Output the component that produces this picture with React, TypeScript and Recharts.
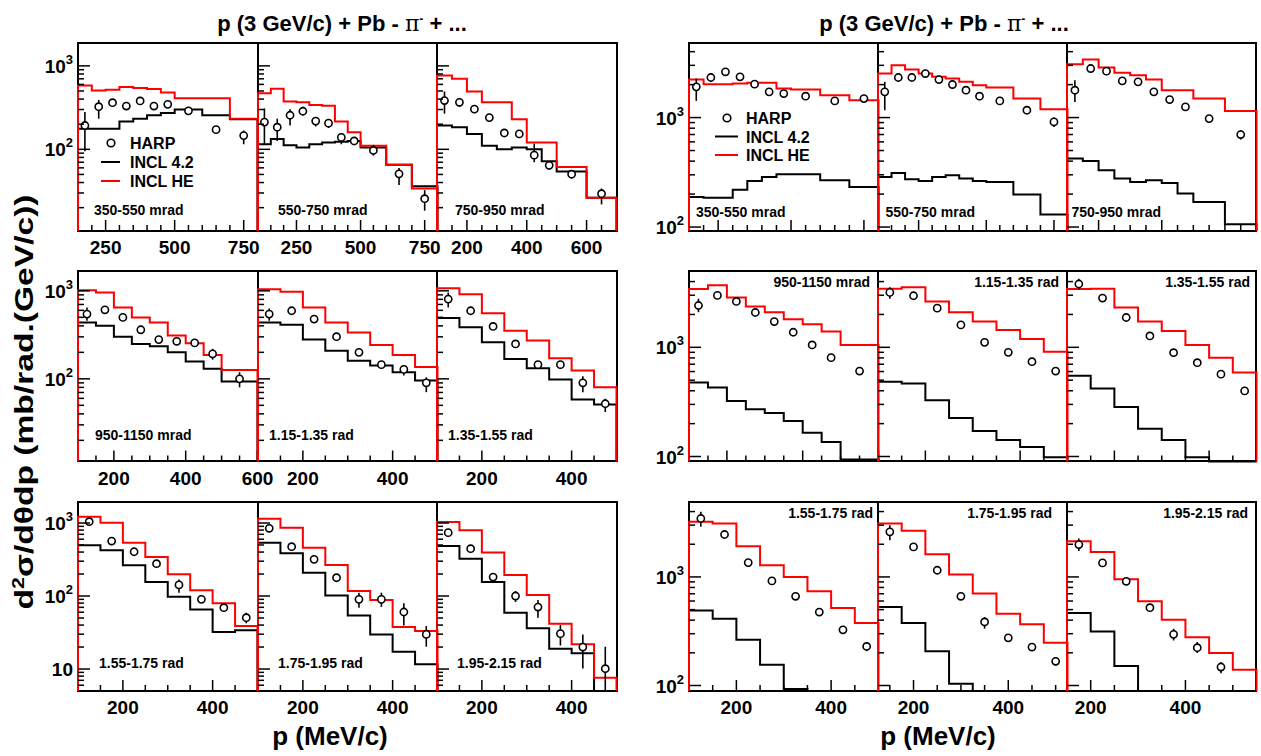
import React from 'react';
import { ComposedChart, Line, Scatter, XAxis, YAxis, ErrorBar } from 'recharts';

const FONT = '"Liberation Sans", Arial, Helvetica, sans-serif';

// ---------------- text ----------------
const TITLE_MAIN = 'p (3 GeV/c) + Pb - ';
const TITLE_PION = 'π';
const TITLE_TAIL = ' + ...';
const X_TITLE = 'p (MeV/c)';
const Y_TITLE_A = 'd';
const Y_TITLE_SUP = '2';
const Y_TITLE_B = 'σ/dθdp (mb/rad.(GeV/c))';
const LEGEND_LABELS = ['HARP', 'INCL 4.2', 'INCL HE'];
const ANGLES_ROW1 = ['350-550 mrad', '550-750 mrad', '750-950 mrad'];
const ANGLES_ROW2 = ['950-1150 mrad', '1.15-1.35 rad', '1.35-1.55 rad'];
const ANGLES_ROW3 = ['1.55-1.75 rad', '1.75-1.95 rad', '1.95-2.15 rad'];

// ---------------- axes ----------------
const XT_150_800 = [200, 250, 300, 350, 400, 450, 500, 550, 600, 650, 700, 750];
const XT_100_800 = [150, 200, 250, 300, 350, 400, 450, 500, 550, 600, 650, 700, 750];
const XT_100_700 = [150, 200, 250, 300, 350, 400, 450, 500, 550, 600, 650];
const XT_100_600 = [150, 200, 250, 300, 350, 400, 450, 500, 550, 600];
const XT_100_500 = [150, 200, 250, 300, 350, 400, 450];
const XT_125_525 = [150, 200, 250, 300, 350, 400, 450, 500];
const XT_150_550 = [200, 250, 300, 350, 400, 450, 500];
const XM_250 = [250, 500, 750];
const XM_200 = [200, 400, 600];

const YT_LEFT = [20, 30, 40, 50, 60, 70, 80, 90, 100, 200, 300, 400, 500, 600, 700, 800, 900, 1000];
const YT_LEFT3 = [6, 7, 8, 9, 10, 20, 30, 40, 50, 60, 70, 80, 90, 100, 200, 300, 400, 500, 600, 700, 800, 900, 1000];
const YT_RIGHT = [100, 200, 300, 400, 500, 600, 700, 800, 900, 1000, 2000, 3000, 4000];
const Y_DECADES = [10, 100, 1000];
const Y_DECADE_EXP = ['', '2', '3'];

const YD_L1: [number, number] = [10.5, 1880];
const YD_L2: [number, number] = [11.5, 1680];
const YD_L3: [number, number] = [5, 1940];
const YD_R1: [number, number] = [92, 4800];
const YD_R2: [number, number] = [90, 5000];
const YD_R3: [number, number] = [89, 4900];

// ---------------- bin edges / momenta ----------------
const E_150_800 = [150, 200, 250, 300, 350, 400, 450, 500, 600, 700, 800];
const E_100_800 = [100, 150, 200, 250, 300, 350, 400, 450, 500, 600, 700, 800];
const E_100_700 = [100, 150, 200, 250, 300, 350, 400, 450, 500, 600, 700];
const E_100_600 = [100, 150, 200, 250, 300, 350, 400, 450, 500, 600];
const E_100_500 = [100, 150, 200, 250, 300, 350, 400, 450, 500];
const E_125_525 = [125, 175, 225, 275, 325, 375, 425, 475, 525];
const E_150_550 = [150, 200, 250, 300, 350, 400, 450, 500, 550];

const P_10A = [175, 225, 275, 325, 375, 425, 475, 550, 650, 750];
const P_11 = [125, 175, 225, 275, 325, 375, 425, 475, 550, 650, 750];
const P_10B = [125, 175, 225, 275, 325, 375, 425, 475, 550, 650];
const P_9 = [125, 175, 225, 275, 325, 375, 425, 475, 550];
const P_8 = [125, 175, 225, 275, 325, 375, 425, 475];
const P_8S = [150, 200, 250, 300, 350, 400, 450, 500];
const P_7 = [175, 225, 275, 325, 375, 425, 475];

// ---------------- LEFT group ----------------
const L11_HE = [580, 508, 518, 558, 543, 528, 481, 409, 409, 233];
const L11_42 = [176, 176, 176, 216, 233, 256, 273, 300, 256, 229];
const L11_V = [193, 324, 362, 330, 380, 330, 346, 289, 172, 146];
const L11_LO = [95, 233, 335, 305, 352, 305, 320, 268, 153, 115];
const L11_HI = [281, 391, 392, 357, 410, 357, 373, 312, 190, 168];

const L12_HE = [471, 533, 373, 366, 339, 333, 216, 160, 110, 65.5, 33.9];
const L12_42 = [115, 133, 112, 105, 115, 121, 123, 126, 105, 65.5, 36.2];
const L12_V = [212, 184, 256, 286, 218, 206, 139, 126, 97, 50.8, 25.6];
const L12_LO = [115, 126, 193, 256, 188, 180, 115, 112, 84, 37.3, 18.4];
const L12_HI = [309, 233, 303, 324, 237, 228, 155, 139, 113, 59.6, 32.4];

const L13_HE = [769, 700, 494, 366, 366, 229, 121, 121, 61.4, 26.3];
const L13_42 = [193, 184, 153, 110, 100, 105, 100, 72, 54.3, 26.3];
const L13_V = [384, 366, 303, 240, 157, 153, 85.2, 64.3, 50.3, 29.4];
const L13_LO = [268, 324, 272, 215, 142, 138, 70, 57, 45, 21.9];
const L13_HI = [494, 409, 335, 266, 172, 168, 117, 72, 56, 33.9];

const L21_HE = [1018, 957, 647, 499, 438, 310, 253, 187, 126];
const L21_42 = [438, 401, 301, 249, 234, 200, 157, 130, 93.3];
const L21_V = [544, 609, 499, 361, 279, 267, 256, 192, 100];
const L21_LO = [457, 570, 465, 335, 260, 248, 233, 165, 80];
const L21_HI = [648, 650, 535, 389, 300, 287, 280, 219, 119];

const L22_HE = [1044, 975, 647, 438, 337, 243, 187, 136];
const L22_42 = [438, 412, 279, 209, 161, 142, 119, 95.8];
const L22_V = [544, 594, 477, 301, 200, 145, 128, 90.1];
const L22_LO = [457, 555, 445, 280, 183, 135, 109, 70.6];
const L22_HI = [631, 635, 510, 323, 219, 156, 141, 104];

const L23_HE = [1072, 916, 558, 352, 272, 171, 124, 80.5];
const L23_42 = [491, 385, 260, 168, 132, 98.3, 58.4, 51.2];
const L23_V = [805, 594, 394, 249, 145, 145, 90.1, 52.1];
const L23_LO = [647, 555, 368, 232, 135, 135, 70.6, 42];
const L23_HI = [957, 635, 421, 268, 156, 156, 107, 59.4];

const L31_HE = [1222, 1011, 538, 342, 198, 120, 79.3, 38.8];
const L31_42 = [494, 423, 263, 156, 97.9, 65.6, 32.1, 33.9];
const L31_V = [1043, 566, 404, 277, 142, 90, 69.2, 50.5];
const L31_LO = [910, 530, 378, 259, 111, 84, 61, 42.3];
const L31_HI = [1180, 605, 432, 296, 169, 96, 77, 59.1];

const L32_HE = [1146, 863, 459, 266, 117, 88.1, 37.6, 33.2];
const L32_42 = [538, 384, 209, 102, 54.3, 29.8, 17.3, 11.6];
const L32_V = [846, 474, 318, 178, 90, 90, 60.4, 29.8];
const L32_LO = [750, 445, 297, 160, 69.2, 71, 39.6, 20.2];
const L32_HI = [950, 505, 340, 197, 111, 111, 79.3, 38.8];

const L33_HE = [1033, 794, 393, 194, 103, 41.8, 21.8, 7.6];
const L33_42 = [484, 324, 156, 59.1, 36.1, 19, 16.4, 5];
const L33_V = [738, 445, 182, 100, 70.6, 30.5, 20, 10.1];
const L33_LO = [650, 415, 170, 83, 50.5, 21, 10.2, 5];
const L33_HI = [830, 478, 195, 117, 88, 40, 29.8, 20.2];

// ---------------- RIGHT group ----------------
const R11_HE = [2226, 2019, 2019, 2047, 2075, 2075, 1841, 1803, 1600, 1440];
const R11_42 = [188, 185, 185, 219, 263, 287, 303, 303, 267, 232];
const R11_V = [1908, 2323, 2618, 2355, 2019, 1718, 1658, 1567, 1420, 1491];
const R11_LO = [1420, 2120, 2450, 2200, 1900, 1620, 1560, 1480, 1340, 1380];
const R11_HI = [2274, 2530, 2800, 2520, 2150, 1820, 1760, 1660, 1510, 1600];

const R12_HE = [2525, 3013, 2747, 2525, 2355, 2274, 2120, 1976, 1881, 1491, 1192];
const R12_42 = [287, 312, 273, 263, 287, 297, 277, 263, 258, 198, 130];
const R12_V = [1718, 2323, 2323, 2525, 2226, 2004, 1778, 1567, 1420, 1167, 913];
const R12_LO = [1167, 2200, 2200, 2400, 2110, 1900, 1690, 1490, 1350, 1100, 822];
const R12_HI = [2119, 2450, 2450, 2650, 2340, 2110, 1870, 1650, 1490, 1240, 1000];

const R13_HE = [3077, 3389, 2865, 2562, 2438, 2226, 1778, 1778, 1491, 1151];
const R13_42 = [422, 401, 330, 277, 258, 267, 253, 202, 169, 106];
const R13_V = [1778, 2806, 2654, 2163, 2120, 1718, 1461, 1252, 979, 700];
const R13_LO = [1391, 2650, 2510, 2050, 2010, 1630, 1390, 1190, 930, 629];
const R13_HI = [2192, 2960, 2800, 2280, 2230, 1810, 1540, 1320, 1030, 766];

const R21_HE = [3419, 3694, 2865, 2367, 2098, 1812, 1629, 1394, 1051];
const R21_42 = [476, 429, 323, 271, 250, 211, 165, 136, 93.7];
const R21_V = [2416, 2988, 2631, 2084, 1722, 1374, 1051, 804, 606];
const R21_LO = [2098, 2840, 2500, 1980, 1640, 1310, 1000, 765, 577];
const R21_HI = [2785, 3140, 2770, 2190, 1810, 1440, 1100, 845, 637];

const R22_HE = [3444, 3542, 2631, 2098, 1722, 1444, 1193, 912];
const R22_42 = [483, 466, 328, 225, 171, 142, 122, 98.6];
const R22_V = [3184, 2966, 2285, 1605, 1111, 899, 738, 606];
const R22_LO = [2784, 2820, 2170, 1525, 1055, 855, 700, 576];
const R22_HI = [3549, 3120, 2400, 1690, 1170, 945, 776, 637];

const R23_HE = [3419, 3444, 2318, 1722, 1414, 1051, 804, 589];
const R23_42 = [548, 420, 284, 180, 142, 98.6, 90, 90];
const R23_V = [3800, 2825, 1875, 1271, 893, 723, 568, 399];
const R23_LO = [3373, 2685, 1780, 1208, 848, 687, 540, 379];
const R23_HI = [4256, 2970, 1970, 1335, 938, 760, 597, 420];

const R31_HE = [3220, 3105, 1918, 1281, 1000, 737, 518, 376];
const R31_42 = [492, 412, 264, 155, 93.1, 89, 89, 89];
const R31_V = [3453, 2459, 1356, 919, 663, 475, 326, 229];
const R31_LO = [2894, 2340, 1290, 875, 630, 452, 310, 207];
const R31_HI = [3980, 2580, 1425, 965, 697, 499, 343, 251];

const R32_HE = [3105, 2659, 1618, 1051, 702, 459, 366, 248];
const R32_42 = [528, 376, 207, 104, 89, 89, 89, 89];
const R32_V = [2601, 1891, 1152, 663, 385, 275, 226, 167];
const R32_LO = [2178, 1800, 1095, 630, 334, 258, 213, 153];
const R32_HI = [2998, 1985, 1210, 697, 427, 293, 240, 182];

const R33_HE = [2134, 1700, 952, 596, 404, 279, 199, 140];
const R33_42 = [465, 315, 151, 89, 89, 89, 89, 89];
const R33_V = [1987, 1346, 912, 521, 296, 223, 148];
const R33_LO = [1737, 1280, 866, 490, 260, 199, 130];
const R33_HI = [2257, 1415, 960, 555, 333, 252, 164];

// ---------------- layout ----------------
const LEFT_X = [78, 257.5, 437];
const RIGHT_X = [688.5, 877.5, 1066.5];
const ROW_Y = [42.5, 270.5, 502];
const ROW_H = [188, 190.5, 189];
const LEFT_W = 179.5;
const RIGHT_W = 189.5;

type PanelDef = {
  x: [number, number];
  xTicks: number[];
  xMajor: number[];
  edges: number[];
  he: number[];
  i42: number[];
  hp: number[];
  hv: number[];
  lo: number[];
  hi: number[];
};

const mk = (x: [number, number], xTicks: number[], xMajor: number[], edges: number[], he: number[], i42: number[], hp: number[], hv: number[], lo: number[], hi: number[]): PanelDef =>
  ({ x, xTicks, xMajor, edges, he, i42, hp, hv, lo, hi });

const LEFT_PANELS: PanelDef[][] = [
  [
    mk([150, 800], XT_150_800, XM_250, E_150_800, L11_HE, L11_42, P_10A, L11_V, L11_LO, L11_HI),
    mk([100, 800], XT_100_800, XM_250, E_100_800, L12_HE, L12_42, P_11, L12_V, L12_LO, L12_HI),
    mk([100, 700], XT_100_700, XM_200, E_100_700, L13_HE, L13_42, P_10B, L13_V, L13_LO, L13_HI),
  ],
  [
    mk([100, 600], XT_100_600, XM_200, E_100_600, L21_HE, L21_42, P_9, L21_V, L21_LO, L21_HI),
    mk([100, 500], XT_100_500, XM_200, E_100_500, L22_HE, L22_42, P_8, L22_V, L22_LO, L22_HI),
    mk([100, 500], XT_100_500, XM_200, E_100_500, L23_HE, L23_42, P_8, L23_V, L23_LO, L23_HI),
  ],
  [
    mk([100, 500], XT_100_500, XM_200, E_100_500, L31_HE, L31_42, P_8, L31_V, L31_LO, L31_HI),
    mk([100, 500], XT_100_500, XM_200, E_100_500, L32_HE, L32_42, P_8, L32_V, L32_LO, L32_HI),
    mk([100, 500], XT_100_500, XM_200, E_100_500, L33_HE, L33_42, P_8, L33_V, L33_LO, L33_HI),
  ],
];

const RIGHT_PANELS: PanelDef[][] = [
  [
    mk([150, 800], XT_150_800, XM_250, E_150_800, R11_HE, R11_42, P_10A, R11_V, R11_LO, R11_HI),
    mk([100, 800], XT_100_800, XM_250, E_100_800, R12_HE, R12_42, P_11, R12_V, R12_LO, R12_HI),
    mk([100, 700], XT_100_700, XM_200, E_100_700, R13_HE, R13_42, P_10B, R13_V, R13_LO, R13_HI),
  ],
  [
    mk([100, 600], XT_100_600, XM_200, E_100_600, R21_HE, R21_42, P_9, R21_V, R21_LO, R21_HI),
    mk([100, 500], XT_100_500, XM_200, E_100_500, R22_HE, R22_42, P_8, R22_V, R22_LO, R22_HI),
    mk([100, 500], XT_100_500, XM_200, E_100_500, R23_HE, R23_42, P_8, R23_V, R23_LO, R23_HI),
  ],
  [
    mk([100, 500], XT_100_500, XM_200, E_100_500, R31_HE, R31_42, P_8, R31_V, R31_LO, R31_HI),
    mk([125, 525], XT_125_525, XM_200, E_125_525, R32_HE, R32_42, P_8S, R32_V, R32_LO, R32_HI),
    mk([150, 550], XT_150_550, XM_200, E_150_550, R33_HE, R33_42, P_7, R33_V, R33_LO, R33_HI),
  ],
];

const LEFT_YDOM = [YD_L1, YD_L2, YD_L3];
const RIGHT_YDOM = [YD_R1, YD_R2, YD_R3];
const LEFT_YTICKS = [YT_LEFT, YT_LEFT, YT_LEFT3];

function histData(edges: number[], vals: number[], base: number) {
  const pts: { x: number; y: number }[] = [{ x: edges[0], y: base }];
  vals.forEach((v, i) => pts.push({ x: edges[i], y: v }));
  pts.push({ x: edges[edges.length - 1], y: vals[vals.length - 1] });
  pts.push({ x: edges[edges.length - 1], y: base });
  return pts;
}

const HarpMarker = (props: any) => {
  const { cx, cy } = props;
  if (cx == null || cy == null) return null;
  return <circle cx={cx} cy={cy} r={3.6} fill="#fff" stroke="#000" strokeWidth={1.6} />;
};

const makeXTick = (majors: number[], showLabels: boolean) => (props: any) => {
  const { x, y, payload } = props;
  const major = majors.includes(payload.value);
  return (
    <g>
      <line x1={x} x2={x} y1={y} y2={y - (major ? 11 : 6)} stroke="#000" strokeWidth={1.5} />
      {major && showLabels ? (
        <text x={x} y={y + 23} textAnchor="middle" fontFamily={FONT} fontWeight="bold" fontSize={19} fill="#000">
          {payload.value}
        </text>
      ) : null}
    </g>
  );
};

const makeYTick = (showLabels: boolean) => (props: any) => {
  const { x, y, payload } = props;
  const idx = Y_DECADES.indexOf(payload.value);
  const major = idx >= 0;
  return (
    <g>
      <line x1={x} x2={x + (major ? 12 : 6)} y1={y} y2={y} stroke="#000" strokeWidth={1.5} />
      {major && showLabels ? (
        <text x={x - 5} y={y + 7} textAnchor="end" fontFamily={FONT} fontWeight="bold" fontSize={19} fill="#000">
          10
          {Y_DECADE_EXP[idx] ? (
            <tspan dy={-9} fontSize={13}>
              {Y_DECADE_EXP[idx]}
            </tspan>
          ) : null}
        </text>
      ) : null}
    </g>
  );
};

type PanelProps = {
  def: PanelDef;
  left: number;
  top: number;
  w: number;
  h: number;
  yDom: [number, number];
  yTicks: number[];
  showX: boolean;
  showY: boolean;
};

function Frame({ left, top, w, h }: { left: number; top: number; w: number; h: number }) {
  return (
    <div
      style={{
        position: 'absolute',
        left: left - 1,
        top: top - 1,
        width: w + 2,
        height: h + 2,
        border: '2px solid #000',
        boxSizing: 'border-box',
      }}
    />
  );
}

function Panel({ def, left, top, w, h, yDom, yTicks, showX, showY }: PanelProps) {
  const black = histData(def.edges, def.i42, yDom[0]);
  const red = histData(def.edges, def.he, yDom[0]);
  const pts = def.hp.map((p, i) => ({ x: p, y: def.hv[i], err: [def.hv[i] - def.lo[i], def.hi[i] - def.hv[i]] }));
  return (
    <div style={{ position: 'absolute', left: left - 60, top: top - 10 }}>
      <ComposedChart width={w + 80} height={h + 40} margin={{ top: 10, right: 20, bottom: 0, left: 0 }}>
        <XAxis
          type="number"
          dataKey="x"
          domain={def.x}
          ticks={def.xTicks}
          interval={0}
          tickSize={0}
          tickMargin={0}
          axisLine={false}
          tickLine={false}
          tick={makeXTick(def.xMajor, showX)}
          height={30}
        />
        <YAxis
          type="number"
          dataKey="y"
          scale="log"
          domain={yDom}
          ticks={yTicks}
          interval={0}
          tickSize={0}
          tickMargin={0}
          axisLine={false}
          tickLine={false}
          tick={makeYTick(showY)}
          width={60}
        />
        <Line data={black} dataKey="y" type="stepAfter" stroke="#000" strokeWidth={2} dot={false} activeDot={false} isAnimationActive={false} />
        <Line data={red} dataKey="y" type="stepAfter" stroke="#ff0000" strokeWidth={2} dot={false} activeDot={false} isAnimationActive={false} />
        <Scatter data={pts} shape={HarpMarker} isAnimationActive={false}>
          <ErrorBar dataKey="err" direction="y" width={0} stroke="#000" strokeWidth={1.6} isAnimationActive={false} />
        </Scatter>
      </ComposedChart>
    </div>
  );
}

const textStyle = (size: number): React.CSSProperties => ({
  position: 'absolute',
  fontFamily: FONT,
  fontWeight: 'bold',
  fontSize: size,
  color: '#000',
  whiteSpace: 'nowrap',
  lineHeight: `${size + 4}px`,
});

function Legend({ cx, cy, lineX1, lineX2, textX, dy }: { cx: number; cy: number; lineX1: number; lineX2: number; textX: number; dy: number }) {
  return (
    <svg style={{ position: 'absolute', left: 0, top: 0, overflow: 'visible' }} width={1} height={1}>
      <circle cx={cx} cy={cy} r={3.8} fill="#fff" stroke="#000" strokeWidth={1.6} />
      <line x1={lineX1} x2={lineX2} y1={cy + dy} y2={cy + dy} stroke="#000" strokeWidth={2} />
      <line x1={lineX1} x2={lineX2} y1={cy + 2 * dy} y2={cy + 2 * dy} stroke="#ff0000" strokeWidth={2} />
      {LEGEND_LABELS.map((t, i) => (
        <text key={t} x={textX} y={cy + i * dy + 6} fontFamily={FONT} fontWeight="bold" fontSize={16} fill="#000">
          {t}
        </text>
      ))}
    </svg>
  );
}

export default function App() {
  const frames: JSX.Element[] = [];
  const charts: JSX.Element[] = [];
  for (let r = 0; r < 3; r++) {
    for (let c = 0; c < 3; c++) {
      frames.push(<Frame key={`fl${r}${c}`} left={LEFT_X[c]} top={ROW_Y[r]} w={LEFT_W} h={ROW_H[r]} />);
      frames.push(<Frame key={`fr${r}${c}`} left={RIGHT_X[c]} top={ROW_Y[r]} w={RIGHT_W} h={ROW_H[r]} />);
      charts.push(
        <Panel
          key={`pl${r}${c}`}
          def={LEFT_PANELS[r][c]}
          left={LEFT_X[c]}
          top={ROW_Y[r]}
          w={LEFT_W}
          h={ROW_H[r]}
          yDom={LEFT_YDOM[r]}
          yTicks={LEFT_YTICKS[r]}
          showX={true}
          showY={c === 0}
        />
      );
      charts.push(
        <Panel
          key={`pr${r}${c}`}
          def={RIGHT_PANELS[r][c]}
          left={RIGHT_X[c]}
          top={ROW_Y[r]}
          w={RIGHT_W}
          h={ROW_H[r]}
          yDom={RIGHT_YDOM[r]}
          yTicks={YT_RIGHT}
          showX={r === 2}
          showY={c === 0}
        />
      );
    }
  }

  const leftLabelX = [[94, 278, 455], [95, 269, 448], [99, 278, 457]];
  const leftLabelY = [210, 435, 663];
  const leftLabels = [ANGLES_ROW1, ANGLES_ROW2, ANGLES_ROW3];
  const rightRow1X = [696, 885.5, 1071.5];
  const rightRow2R = [870, 1059, 1250];
  const rightRow3R = [873, 1052, 1248];

  return (
    <div style={{ position: 'absolute', left: 0, top: 0, width: 1261, height: 756, background: '#fff', overflow: 'hidden' }}>
      {frames}
      {charts}

      {/* group titles */}
      {[342, 944].map((cx) => (
        <div key={cx} style={{ ...textStyle(22), left: cx - 200, width: 400, top: 6, textAlign: 'center' }}>
          {TITLE_MAIN}
          <span style={{ fontFamily: '"DejaVu Serif", serif', fontWeight: 'normal' }}>{TITLE_PION}</span>
          <sup style={{ fontSize: 12 }}>-</sup>
          {TITLE_TAIL}
        </div>
      ))}

      {/* x titles */}
      {[330, 938].map((cx) => (
        <div key={cx} style={{ ...textStyle(26), left: cx - 100, width: 200, top: 721, textAlign: 'center' }}>
          {X_TITLE}
        </div>
      ))}

      {/* y title */}
      <svg style={{ position: 'absolute', left: 0, top: 0 }} width={60} height={756}>
        <text
          transform="translate(33,402) rotate(-90)"
          textAnchor="middle"
          fontFamily={FONT}
          fontWeight="bold"
          fontSize={25}
          fill="#000"
          textLength={415}
          lengthAdjust="spacingAndGlyphs"
        >
          {Y_TITLE_A}
          <tspan dy={-9} fontSize={16}>
            {Y_TITLE_SUP}
          </tspan>
          <tspan dy={9}>{Y_TITLE_B}</tspan>
        </text>
      </svg>

      {/* legends */}
      <Legend cx={111} cy={143} lineX1={101} lineX2={120} textX={130} dy={19} />
      <Legend cx={727} cy={118} lineX1={715} lineX2={738} textX={746} dy={18.5} />

      {/* angle labels, left group */}
      {leftLabels.map((row, r) =>
        row.map((t, c) => (
          <div key={`ll${r}${c}`} style={{ ...textStyle(14), left: leftLabelX[r][c], top: leftLabelY[r] - 9 }}>
            {t}
          </div>
        ))
      )}
      {/* angle labels, right group */}
      {ANGLES_ROW1.map((t, c) => (
        <div key={`r1${c}`} style={{ ...textStyle(14), left: rightRow1X[c], top: 211.7 - 9 }}>
          {t}
        </div>
      ))}
      {ANGLES_ROW2.map((t, c) => (
        <div key={`r2${c}`} style={{ ...textStyle(14), left: rightRow2R[c] - 150, width: 150, textAlign: 'right', top: 281.7 - 9 }}>
          {t}
        </div>
      ))}
      {ANGLES_ROW3.map((t, c) => (
        <div key={`r3${c}`} style={{ ...textStyle(14), left: rightRow3R[c] - 150, width: 150, textAlign: 'right', top: 512.7 - 9 }}>
          {t}
        </div>
      ))}
    </div>
  );
}
